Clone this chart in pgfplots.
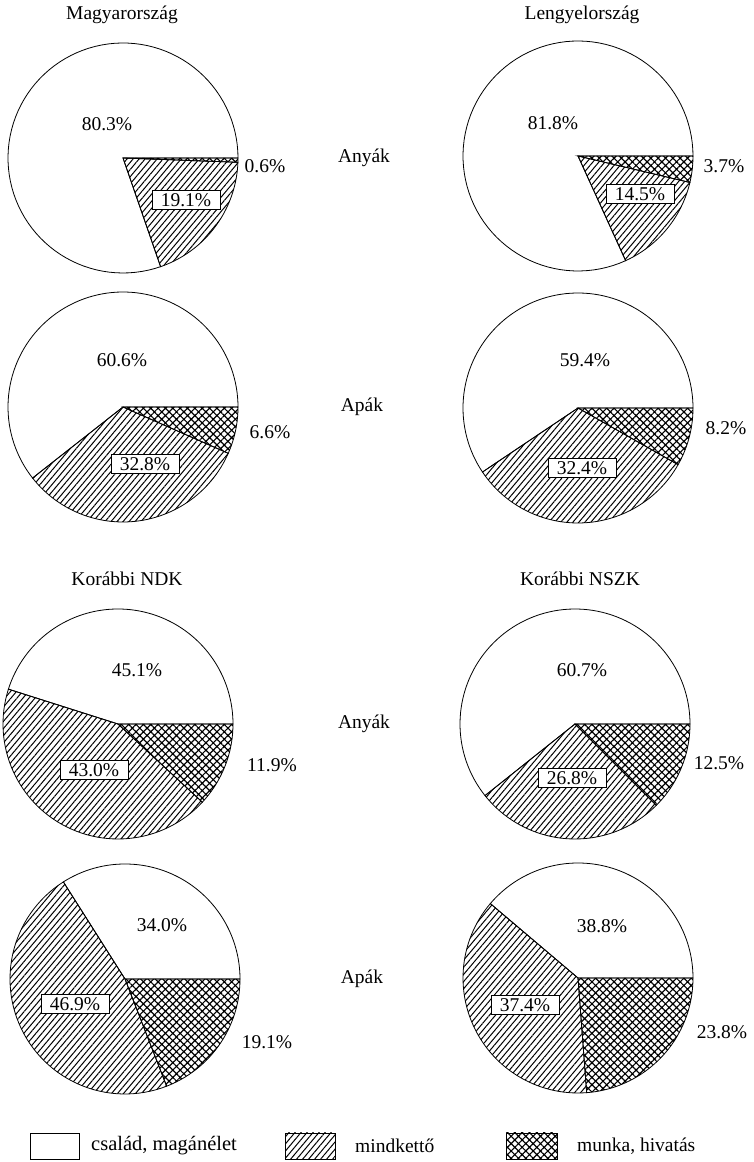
\documentclass[border=0pt]{standalone}
\usepackage{fontspec}
\setmainfont{Liberation Serif}
\usepackage{pgfplots}
\pgfplotsset{compat=1.18}
\usetikzlibrary{patterns.meta}
\tikzset{
 famsl/.style={draw=black, line width=0.8pt, fill=white},
 bothsl/.style={draw=black, line width=0.8pt, pattern={Lines[angle=50,distance=4.6pt,line width=1pt]}},
 worksl/.style={draw=black, line width=0.8pt, pattern={Hatch[angle=45,distance=5.2pt,line width=1.15pt]}},
 lab/.style={font=\fontsize{19.5}{22}\selectfont, inner sep=0pt},
 blab/.style={font=\fontsize{19.5}{22}\selectfont, draw=black, fill=white, line width=0.6pt, inner xsep=9pt, inner ysep=3pt},
 ttl/.style={font=\fontsize{19.5}{22}\selectfont, inner sep=0pt},
}
% #1 cx, #2 cy, #3 csalad %, #4 mindketto %, #5 munka %
\newcommand{\pie}[5]{%
 \pgfmathsetmacro{\aW}{-3.6*#5}%
 \pgfmathsetmacro{\aB}{-3.6*(#5+#4)}%
 \pgfmathsetmacro{\aF}{360-3.6*(#5+#4)}%
 \edef\doit{%
  \noexpand\addplot[famsl, domain=0:\aF, samples=90] ({#1+115*cos(x)},{#2+115*sin(x)}) -- (axis cs:#1,#2) -- cycle;
  \noexpand\addplot[bothsl, domain=\aB:\aW, samples=60] ({#1+115*cos(x)},{#2+115*sin(x)}) -- (axis cs:#1,#2) -- cycle;
  \noexpand\addplot[worksl, domain=\aW:0, samples=40] ({#1+115*cos(x)},{#2+115*sin(x)}) -- (axis cs:#1,#2) -- cycle;
 }\doit}
\begin{document}
\begin{tikzpicture}
\begin{axis}[
  scale only axis, width=753pt, height=1162pt,
  xmin=0, xmax=753, ymin=0, ymax=1162,
  hide axis, clip=false]
\path (axis cs:0,0) rectangle (axis cs:753,1162);
% pies: centre x, centre y, család, mindkettő, munka
\pie{123}{1004}{80.3}{19.1}{0.6}
\pie{123}{755}{60.6}{32.8}{6.6}
\pie{578}{1006}{81.8}{14.5}{3.7}
\pie{578}{754}{59.4}{32.4}{8.2}
\pie{118}{438}{45.1}{43.0}{11.9}
\pie{125}{183}{34.0}{46.9}{19.1}
\pie{575}{438}{60.7}{26.8}{12.5}
\pie{578}{184}{38.8}{37.4}{23.8}
% titles
\node[ttl] at (axis cs:122,1147) {Magyarország};
\node[ttl] at (axis cs:582,1147) {Lengyelország};
\node[ttl] at (axis cs:127,583) {Korábbi NDK};
\node[ttl] at (axis cs:580,583) {Korábbi NSZK};
\node[ttl] at (axis cs:364,1004) {Anyák};
\node[ttl] at (axis cs:362,755) {Apák};
\node[ttl] at (axis cs:364,438) {Anyák};
\node[ttl] at (axis cs:362,183) {Apák};
% value labels
\node[lab] at (axis cs:107,1038) {80.3\%};
\node[lab] at (axis cs:265,996) {0.6\%};
\node[blab] at (axis cs:186,962) {19.1\%};
\node[lab] at (axis cs:553,1039) {81.8\%};
\node[lab] at (axis cs:724,996) {3.7\%};
\node[blab] at (axis cs:640,968) {14.5\%};
\node[lab] at (axis cs:122,802) {60.6\%};
\node[lab] at (axis cs:270,730) {6.6\%};
\node[blab] at (axis cs:145,698) {32.8\%};
\node[lab] at (axis cs:585,802) {59.4\%};
\node[lab] at (axis cs:726,734) {8.2\%};
\node[blab] at (axis cs:582,694) {32.4\%};
\node[lab] at (axis cs:137,492) {45.1\%};
\node[lab] at (axis cs:272,397) {11.9\%};
\node[blab] at (axis cs:94,392) {43.0\%};
\node[lab] at (axis cs:582,492) {60.7\%};
\node[lab] at (axis cs:719,399) {12.5\%};
\node[blab] at (axis cs:572,384) {26.8\%};
\node[lab] at (axis cs:162,237) {34.0\%};
\node[lab] at (axis cs:267,120) {19.1\%};
\node[blab] at (axis cs:75,158) {46.9\%};
\node[lab] at (axis cs:602,236) {38.8\%};
\node[lab] at (axis cs:722,130) {23.8\%};
\node[blab] at (axis cs:525,157) {37.4\%};
% legend
\addplot[famsl, line width=0.6pt] coordinates {(30,3) (79,3) (79,29) (30,29)} -- cycle;
\addplot[bothsl, line width=0.6pt] coordinates {(285,3) (335,3) (335,29) (285,29)} -- cycle;
\addplot[worksl, line width=0.6pt] coordinates {(506,3) (557,3) (557,29) (506,29)} -- cycle;
\node[ttl, anchor=west, font=\fontsize{20.5}{22}\selectfont] at (axis cs:91,16) {család, magánélet};
\node[ttl, anchor=west] at (axis cs:355,16) {mindkettő};
\node[ttl, anchor=west] at (axis cs:577,16) {munka, hivatás};
\end{axis}
\end{tikzpicture}
\end{document}
